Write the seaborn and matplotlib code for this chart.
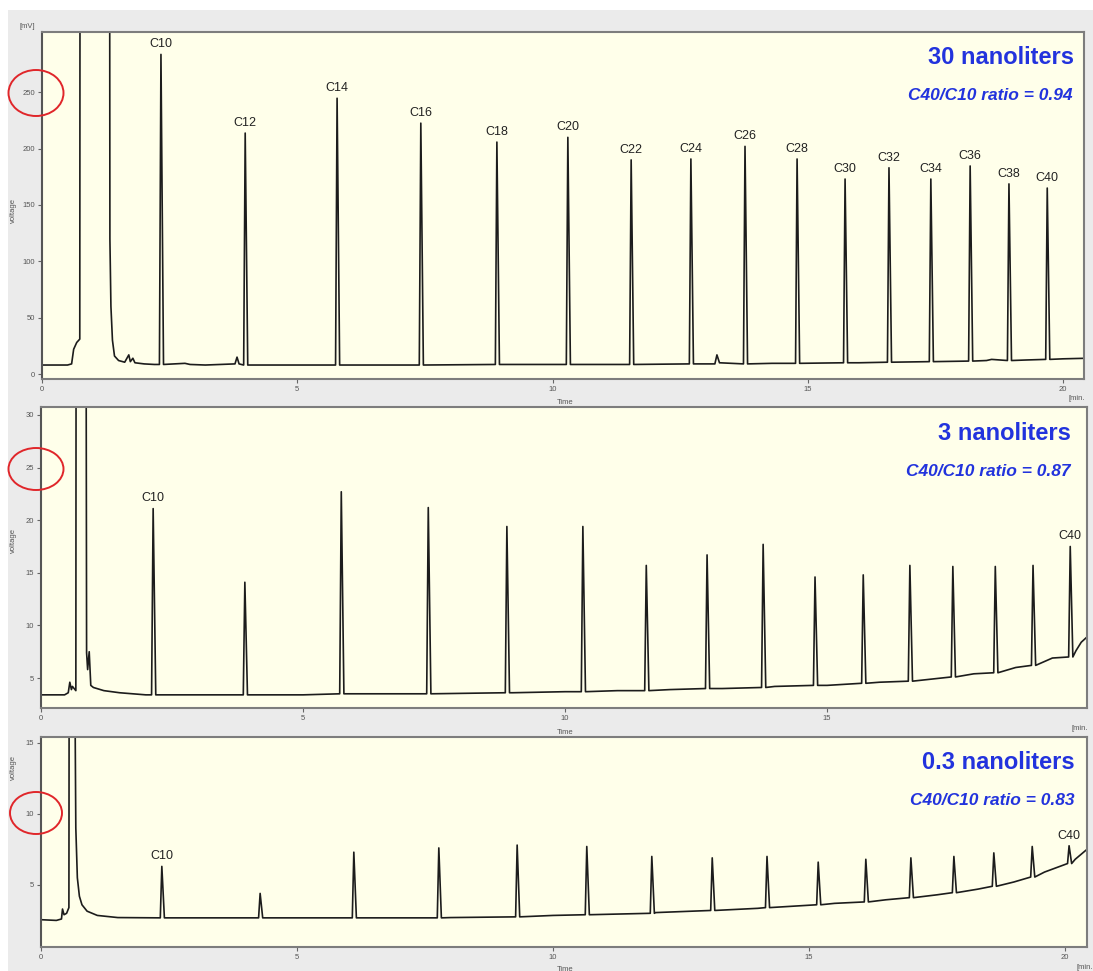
import numpy as np
import pandas as pd
import matplotlib
matplotlib.use("Agg")
import matplotlib.pyplot as plt
import seaborn as sns
from matplotlib.patches import Ellipse, Rectangle

# ---------------- data ----------------
PEAK_LABELS = ["C10", "C12", "C14", "C16", "C18", "C20", "C22", "C24",
               "C26", "C28", "C30", "C32", "C34", "C36", "C38", "C40"]

# Panel 1: 30 nanoliters
P1_PEAK_T = [2.33, 3.98, 5.78, 7.42, 8.91, 10.30, 11.54, 12.71,
             13.77, 14.79, 15.73, 16.59, 17.41, 18.18, 18.94, 19.69]
P1_PEAK_H = [283.6, 213.8, 244.7, 222.6, 205.8, 210.0, 190.0, 190.8,
             202.0, 190.8, 173.0, 183.0, 173.0, 184.6, 168.7, 165.0]
P1_PEAK_BASE = [8.5, 8.0, 8.0, 8.0, 8.5, 8.5, 8.5, 9.0,
                9.0, 9.5, 10.0, 10.5, 11.0, 11.5, 12.0, 13.0]
P1_BASE_T = [0.0, 0.5, 0.58, 0.62, 0.68, 0.72, 0.74, 0.745, 1.325, 1.33, 1.35,
             1.38, 1.42, 1.5, 1.62, 1.70, 1.73, 1.78, 1.82, 2.0, 2.2, 2.8,
             2.9, 3.2, 3.78, 3.82, 3.86, 4.2, 5.0, 7.0, 9.0, 11.0, 13.0,
             13.18, 13.22, 13.27, 14.3, 16.0, 18.5, 18.6, 19.3, 20.0, 20.45]
P1_BASE_V = [8.0, 8.0, 9.0, 22.0, 28.0, 30.0, 31.0, 400.0, 400.0, 120.0, 60.0,
             30.0, 16.0, 12.0, 10.5, 17.0, 11.0, 14.0, 10.0, 9.0, 8.5, 9.5,
             8.5, 8.0, 9.0, 15.0, 9.0, 8.0, 8.0, 8.0, 8.5, 8.5, 9.0,
             9.0, 17.0, 10.0, 9.5, 10.0, 12.0, 13.0, 12.5, 13.5, 14.0]

# Panel 2: 3 nanoliters
P2_PEAK_T = [2.14, 3.89, 5.73, 7.39, 8.89, 10.34, 11.55, 12.71,
             13.78, 14.77, 15.69, 16.58, 17.40, 18.21, 18.93, 19.64]
P2_PEAK_H = [21.1, 14.1, 22.7, 21.2, 19.4, 19.4, 15.7, 16.7,
             17.7, 14.6, 14.8, 15.7, 15.6, 15.6, 15.7, 17.5]
P2_PEAK_BASE = [3.4, 3.4, 3.5, 3.5, 3.6, 3.7, 3.8, 4.0,
                4.1, 4.3, 4.5, 4.7, 5.1, 5.5, 6.2, 7.0]
P2_BASE_T = [0.0, 0.45, 0.52, 0.55, 0.58, 0.60, 0.665, 0.67, 0.86, 0.87,
             0.89, 0.92, 0.95, 1.0, 1.2, 1.5, 2.0, 3.0, 5.0, 7.0, 9.0,
             10.0, 11.0, 12.0, 13.0, 14.0, 15.0, 16.0, 17.0, 17.8, 18.6,
             19.3, 19.75, 19.85, 19.96]
P2_BASE_V = [3.4, 3.4, 3.6, 4.6, 3.9, 4.2, 3.8, 40.0, 40.0, 7.4,
             5.8, 7.5, 4.3, 4.1, 3.8, 3.6, 3.4, 3.4, 3.4, 3.5, 3.6,
             3.7, 3.8, 3.9, 4.0, 4.2, 4.3, 4.6, 4.9, 5.4, 6.0,
             6.9, 7.6, 8.4, 8.9]

# Panel 3: 0.3 nanoliters
P3_PEAK_T = [2.36, 4.28, 6.11, 7.77, 9.30, 10.66, 11.93, 13.11,
             14.18, 15.18, 16.11, 16.99, 17.83, 18.61, 19.36, 20.08]
P3_PEAK_H = [6.3, 4.4, 7.3, 7.6, 7.8, 7.7, 7.0, 6.9,
             7.0, 6.6, 6.8, 6.9, 7.0, 7.25, 7.7, 7.75]
P3_PEAK_BASE = [2.68, 2.68, 2.68, 2.68, 2.75, 2.9, 3.0, 3.2,
                3.4, 3.6, 3.8, 4.1, 4.45, 4.9, 5.55, 6.5]
P3_BASE_T = [0.0, 0.3, 0.4, 0.42, 0.45, 0.5, 0.545, 0.55, 0.66, 0.68,
             0.71, 0.75, 0.8, 0.9, 1.1, 1.5, 3.0, 8.0, 10.0, 12.0, 14.0,
             15.5, 16.5, 17.5, 18.3, 19.0, 19.6, 19.9, 20.2, 20.43]
P3_BASE_V = [2.55, 2.5, 2.6, 3.3, 2.9, 3.0, 3.4, 20.0, 20.0, 9.0,
             5.5, 4.2, 3.6, 3.15, 2.85, 2.7, 2.68, 2.7, 2.85, 3.05, 3.35,
             3.7, 3.95, 4.3, 4.7, 5.2, 5.9, 6.3, 6.8, 7.5]

TITLES = ["30 nanoliters", "3 nanoliters", "0.3 nanoliters"]
RATIOS = ["C40/C10 ratio = 0.94", "C40/C10 ratio = 0.87", "C40/C10 ratio = 0.83"]
P1_YTICKS = [0, 50, 100, 150, 200, 250]
P2_YTICKS = [5, 10, 15, 20, 25, 30]
P3_YTICKS = [5, 10, 15]
XTICKS = [0, 5, 10, 15, 20]

# ---------------- helpers ----------------
def build_trace(base_t, base_v, peak_t, peak_h, peak_b):
    rows = [(t, v) for t, v in zip(base_t, base_v)
            if all(abs(t - p) > 0.07 for p in peak_t)]
    for t, h, b in zip(peak_t, peak_h, peak_b):
        rows += [(t - 0.03, b), (t, h), (t + 0.05, b)]
    df = pd.DataFrame(rows, columns=["time", "signal"]).sort_values("time")
    return df.reset_index(drop=True)


sns.set_style("white")
plt.rcParams["font.family"] = ["Liberation Sans", "DejaVu Sans"]

W, H = 1093, 971
fig = plt.figure(figsize=(W / 100, H / 100), dpi=100)
fig.patch.set_facecolor("white")
fig.add_artist(Rectangle((8 / W, 0), 1, 1 - 10 / H, transform=fig.transFigure,
                         facecolor="#ebebeb", edgecolor="none", zorder=-10))


def px_axes(left, top, right, bottom):
    return fig.add_axes([left / W, 1 - bottom / H, (right - left) / W, (bottom - top) / H])


panels = [
    dict(box=(42, 32, 1084, 379), xlim=(0, 20.41), ylim=(-4.4, 303.5),
         yt=P1_YTICKS, data=(P1_BASE_T, P1_BASE_V, P1_PEAK_T, P1_PEAK_H, P1_PEAK_BASE),
         labels=list(range(16)), title_y=58, ratio_y=96, title_x=1074, ratio_x=1072,
         vlabel_y=210, time_y=402, min_xy=(1077, 398), circle=(36, 93, 55, 46)),
    dict(box=(41, 407, 1087, 708), xlim=(0, 19.96), ylim=(2.15, 30.76),
         yt=P2_YTICKS, data=(P2_BASE_T, P2_BASE_V, P2_PEAK_T, P2_PEAK_H, P2_PEAK_BASE),
         labels=[0, 15], title_y=434, ratio_y=471, title_x=1071, ratio_x=1071,
         vlabel_y=540, time_y=732, min_xy=(1080, 728), circle=(36, 469, 55, 42)),
    dict(box=(41, 737, 1087, 947), xlim=(0, 20.43), ylim=(0.63, 15.4),
         yt=P3_YTICKS, data=(P3_BASE_T, P3_BASE_V, P3_PEAK_T, P3_PEAK_H, P3_PEAK_BASE),
         labels=[0, 15], title_y=762, ratio_y=800, title_x=1075, ratio_x=1075,
         vlabel_y=768, time_y=969, min_xy=(1085, 967), circle=(36, 813, 52, 42)),
]

BLUE = "#2233dd"
for i, p in enumerate(panels):
    ax = px_axes(*p["box"])
    ax.set_facecolor("#ffffea")
    bt, bv, pt, ph, pb = p["data"]
    df = build_trace(bt, bv, pt, ph, pb)
    sns.lineplot(data=df, x="time", y="signal", ax=ax, estimator=None, sort=False,
                 color="#1c1c1c", linewidth=1.2)
    ax.set_xlim(*p["xlim"])
    ax.set_ylim(*p["ylim"])
    ax.set_xticks([x for x in XTICKS if x <= p["xlim"][1]])
    ax.set_yticks(p["yt"])
    ax.set_xlabel("")
    ax.set_ylabel("")
    ax.tick_params(axis="both", labelsize=5.5, labelcolor="#555555", color="#666666",
                   length=3, width=0.8, direction="out", pad=2)
    ax.tick_params(left=True, bottom=True)
    for s in ax.spines.values():
        s.set_color("#7d7d7d")
        s.set_linewidth(1.5)
    ax.spines["left"].set_color("#555555")

    for k in p["labels"]:
        ax.annotate(PEAK_LABELS[k], (pt[k], ph[k]), xytext=(0, 3), textcoords="offset points",
                    ha="center", va="bottom", fontsize=9, color="#222222")

    fig.text(p["title_x"] / W, 1 - p["title_y"] / H, TITLES[i], ha="right", va="center",
             fontsize=17, fontweight="bold", color=BLUE)
    fig.text(p["ratio_x"] / W, 1 - p["ratio_y"] / H, RATIOS[i], ha="right", va="center",
             fontsize=12.5, fontweight="bold", fontstyle="italic", color=BLUE)
    fig.text(13 / W, 1 - p["vlabel_y"] / H, "voltage", rotation=90, ha="center",
             va="center", fontsize=5.5, color="#555555")
    fig.text(565 / W, 1 - p["time_y"] / H, "Time", ha="center", va="center",
             fontsize=5.5, color="#555555")
    fig.text(p["min_xy"][0] / W, 1 - p["min_xy"][1] / H, "[min.", ha="center", va="center",
             fontsize=5.5, color="#555555")
    cx, cy, cw, ch = p["circle"]
    fig.add_artist(Ellipse((cx / W, 1 - cy / H), cw / W, ch / H, transform=fig.transFigure,
                           fill=False, edgecolor="#e0262a", linewidth=1.4, zorder=10))

fig.text(27 / W, 1 - 27 / H, "[mV]", ha="center", va="center", fontsize=5.5, color="#555555")

fig.savefig("out.png", dpi=100, facecolor=fig.get_facecolor())
